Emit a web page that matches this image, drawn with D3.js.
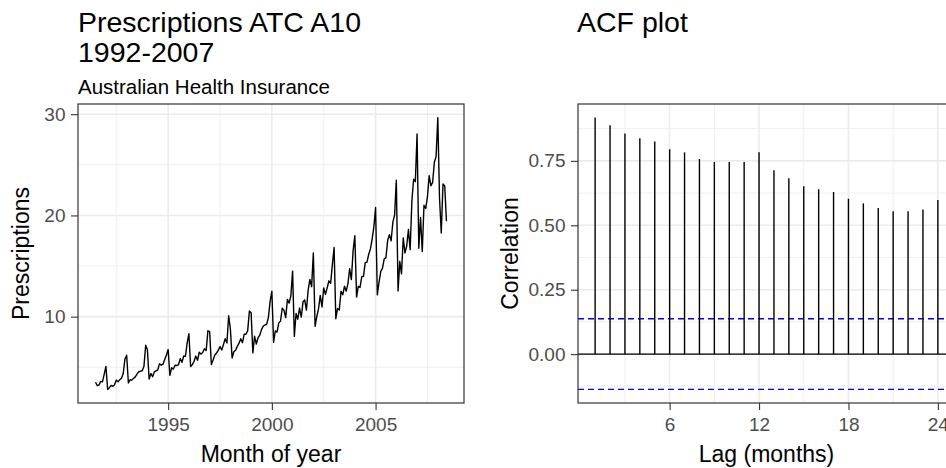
<!DOCTYPE html>
<html>
<head>
<meta charset="utf-8">
<script src="https://cdn.jsdelivr.net/npm/d3@7"></script>
<style>
  body { margin: 0; background: #fff; }
  svg { display: block; font-family: "Liberation Sans", Arial, sans-serif; }
</style>
</head>
<body>
<div id="chart"></div>
<script>
// monthly series, Jul 1991 - Jun 2008
const startYear = 1991, startMonth = 7;
const prescriptions = [
  3.527, 3.181, 3.252, 3.611, 3.566, 4.306,
  5.088, 2.815, 2.986, 3.205, 3.128, 3.271, 3.738, 3.559, 3.777, 3.924, 4.387, 5.811,
  6.192, 3.451, 3.772, 3.734, 3.905, 4.050, 4.316, 4.562, 4.609, 4.668, 5.094, 7.180,
  6.731, 3.841, 4.394, 4.075, 4.541, 4.646, 4.753, 5.351, 5.204, 5.302, 5.774, 6.205,
  6.749, 4.216, 4.949, 4.823, 5.195, 5.171, 5.257, 5.855, 5.491, 6.115, 6.088, 7.417,
  8.329, 5.070, 5.263, 5.597, 6.110, 5.689, 6.487, 6.301, 6.467, 6.829, 6.649, 8.607,
  8.524, 5.278, 5.714, 6.215, 6.412, 6.668, 7.051, 6.705, 7.251, 7.820, 7.398, 10.096,
  8.799, 5.918, 6.534, 6.676, 7.064, 7.383, 7.813, 7.432, 8.275, 8.260, 8.596, 10.559,
  10.391, 6.422, 8.063, 7.298, 7.937, 8.165, 8.717, 9.071, 9.177, 9.252, 9.933, 11.533,
  12.511, 7.457, 8.591, 8.474, 9.387, 9.560, 10.834, 10.644, 9.908, 11.710, 11.340, 12.079,
  14.498, 8.049, 10.313, 9.753, 10.850, 9.962, 11.444, 11.659, 10.647, 12.652, 13.674, 12.966,
  16.300, 9.053, 10.002, 10.789, 12.107, 10.954, 12.845, 12.197, 12.855, 13.542, 13.288, 15.135,
  16.828, 9.800, 10.817, 10.654, 12.512, 12.161, 12.998, 12.517, 13.269, 14.734, 13.669, 16.504,
  18.004, 11.938, 12.998, 12.883, 13.943, 13.989, 15.339, 15.371, 16.142, 16.686, 17.637, 18.869,
  20.779, 12.155, 13.402, 14.459, 14.795, 15.705, 15.830, 17.555, 18.101, 17.497, 19.347, 20.031,
  23.487, 12.537, 15.467, 14.234, 17.783, 16.292, 16.980, 18.612, 16.623, 21.430, 23.576, 23.334,
  28.038, 16.764, 19.793, 16.427, 21.001, 20.681, 21.835, 23.930, 22.930, 23.263, 25.250, 25.806,
  29.665, 21.654, 18.265, 23.108, 22.913, 19.432
];
const yearTicks = [1995, 2000, 2005];
const yearMinor = [1992.5, 1997.5, 2002.5, 2007.5];
const presTicks = [10, 20, 30];
const presMinor = [5, 15, 25];

// autocorrelation
const acfLags = [1, 2, 3, 4, 5, 6, 7, 8, 9, 10, 11, 12, 13, 14, 15, 16, 17, 18, 19, 20, 21, 22, 23, 24];
const acfValues = [0.918, 0.888, 0.856, 0.838, 0.825, 0.795, 0.783, 0.757, 0.746, 0.746, 0.746, 0.783,
                   0.714, 0.683, 0.652, 0.640, 0.629, 0.603, 0.585, 0.567, 0.554, 0.554, 0.561, 0.598];
const ciBound = 0.137;
const lagTicks = [6, 12, 18, 24];
const lagMinor = [3, 9, 15, 21];
const corrTicks = [0, 0.25, 0.5, 0.75];
const corrMinor = [-0.125, 0.125, 0.375, 0.625, 0.875];

const W = 946, H = 468;
const leftPanel = {x: 78, y: 104, w: 386, h: 299};
const rightPanel = {x: 578, y: 104, w: 377, h: 299};

const svg = d3.select("#chart").append("svg")
  .attr("width", W).attr("height", H)
  .style("overflow", "hidden");

function expand(ext) {
  let d = (ext[1] - ext[0]) * 0.05;
  return [ext[0] - d, ext[1] + d];
}

function drawGrid(g, x, y, p, xMaj, xMin, yMaj, yMin) {
  g.append("rect").attr("width", p.w).attr("height", p.h).attr("fill", "#fff");
  let grid = g.append("g").attr("stroke", "#ebebeb");
  grid.selectAll(".xmin").data(xMin).enter().append("line")
    .attr("x1", d => x(d)).attr("x2", d => x(d)).attr("y1", 0).attr("y2", p.h)
    .attr("stroke-width", 0.8);
  grid.selectAll(".ymin").data(yMin).enter().append("line")
    .attr("y1", d => y(d)).attr("y2", d => y(d)).attr("x1", 0).attr("x2", p.w)
    .attr("stroke-width", 0.8);
  grid.selectAll(".xmaj").data(xMaj).enter().append("line")
    .attr("x1", d => x(d)).attr("x2", d => x(d)).attr("y1", 0).attr("y2", p.h)
    .attr("stroke-width", 1.6);
  grid.selectAll(".ymaj").data(yMaj).enter().append("line")
    .attr("y1", d => y(d)).attr("y2", d => y(d)).attr("x1", 0).attr("x2", p.w)
    .attr("stroke-width", 1.6);
}

function drawAxes(g, x, y, p, xTicks, yTicks, xFmt, yFmt) {
  let ax = g.append("g").attr("transform", "translate(0," + p.h + ")")
    .call(d3.axisBottom(x).tickValues(xTicks).tickSize(7).tickSizeOuter(0).tickPadding(8).tickFormat(xFmt));
  let ay = g.append("g")
    .call(d3.axisLeft(y).tickValues(yTicks).tickSize(7).tickSizeOuter(0).tickPadding(5.5).tickFormat(yFmt));
  [ax, ay].forEach(a => {
    a.select(".domain").remove();
    a.selectAll("line").attr("stroke", "#333").attr("stroke-width", 1.1);
    a.selectAll("text").attr("fill", "#4d4d4d").style("font-size", "19px")
      .style("font-family", "'Liberation Sans', Arial, sans-serif");
  });
  g.append("rect").attr("width", p.w).attr("height", p.h)
    .attr("fill", "none").attr("stroke", "#333").attr("stroke-width", 1.2);
}

// ---- left: time plot ----
let tData = prescriptions.map((v, i) => ({t: startYear + (startMonth - 1 + i) / 12, v: v}));
let xL = d3.scaleLinear().domain(expand(d3.extent(tData, d => d.t))).range([0, leftPanel.w]);
let yL = d3.scaleLinear().domain(expand(d3.extent(tData, d => d.v))).range([leftPanel.h, 0]);

let gL = svg.append("g").attr("transform", "translate(" + leftPanel.x + "," + leftPanel.y + ")");
drawGrid(gL, xL, yL, leftPanel, yearTicks, yearMinor, presTicks, presMinor);
gL.append("path").datum(tData)
  .attr("fill", "none").attr("stroke", "#000").attr("stroke-width", 1.4)
  .attr("stroke-linejoin", "round")
  .attr("d", d3.line().x(d => xL(d.t)).y(d => yL(d.v)));
drawAxes(gL, xL, yL, leftPanel, yearTicks, presTicks, d3.format("d"), d3.format("d"));

// ---- right: ACF ----
let xR = d3.scaleLinear().domain(expand(d3.extent(acfLags))).range([0, rightPanel.w]);
let yR = d3.scaleLinear()
  .domain(expand([Math.min(-ciBound, d3.min(acfValues)), Math.max(ciBound, d3.max(acfValues))]))
  .range([rightPanel.h, 0]);

let gR = svg.append("g").attr("transform", "translate(" + rightPanel.x + "," + rightPanel.y + ")");
drawGrid(gR, xR, yR, rightPanel, lagTicks, lagMinor, corrTicks, corrMinor);
gR.append("line").attr("x1", 0).attr("x2", rightPanel.w)
  .attr("y1", yR(0)).attr("y2", yR(0)).attr("stroke", "#000").attr("stroke-width", 1.3);
gR.selectAll(".ci").data([ciBound, -ciBound]).enter().append("line")
  .attr("x1", 0).attr("x2", rightPanel.w)
  .attr("y1", d => yR(d)).attr("y2", d => yR(d))
  .attr("stroke", "#0000ff").attr("stroke-width", 1.4).attr("stroke-dasharray", "6,4");
gR.selectAll(".seg").data(acfLags).enter().append("line")
  .attr("x1", d => xR(d)).attr("x2", d => xR(d))
  .attr("y1", yR(0)).attr("y2", (d, i) => yR(acfValues[i]))
  .attr("stroke", "#000").attr("stroke-width", 1.4);
drawAxes(gR, xR, yR, rightPanel, lagTicks, corrTicks, d3.format("d"), d3.format(".2f"));

// ---- titles ----
function label(x, y, txt, size, color) {
  return svg.append("text").attr("x", x).attr("y", y).text(txt)
    .style("font-size", size + "px").attr("fill", color || "#000");
}
label(78, 32.3, "Prescriptions ATC A10", 28.5);
label(78, 62.3, "1992-2007", 28.5);
label(78, 94.3, "Australian Health Insurance", 20.5);
label(577, 32.3, "ACF plot", 28.5);

label(leftPanel.x + leftPanel.w / 2, 461.5, "Month of year", 23).attr("text-anchor", "middle");
label(rightPanel.x + rightPanel.w / 2, 461.5, "Lag (months)", 23).attr("text-anchor", "middle");

svg.append("text").attr("transform", "translate(28.5," + (leftPanel.y + leftPanel.h / 2) + ") rotate(-90)")
  .attr("text-anchor", "middle").style("font-size", "23px").text("Prescriptions");
svg.append("text").attr("transform", "translate(518.3," + (rightPanel.y + rightPanel.h / 2) + ") rotate(-90)")
  .attr("text-anchor", "middle").style("font-size", "23px").text("Correlation");
</script>
</body>
</html>
